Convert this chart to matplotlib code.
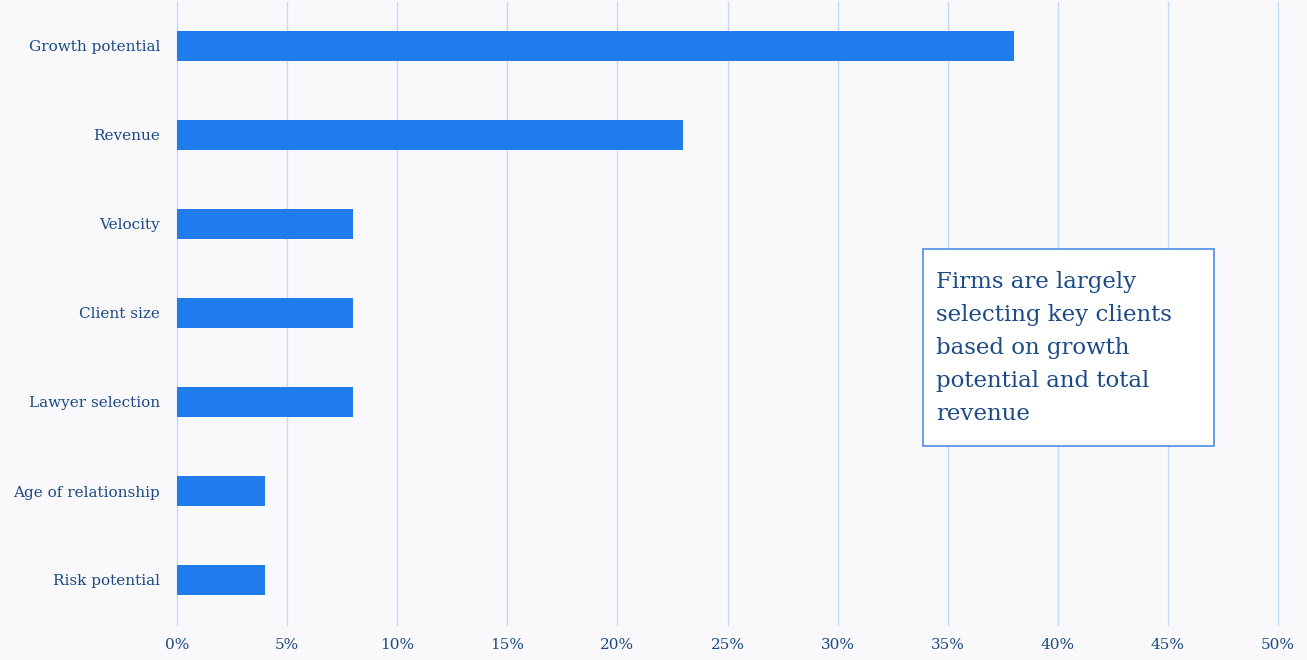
import matplotlib.pyplot as plt
from matplotlib.ticker import FuncFormatter

# selection criteria for key clients, share of firms
criteria = ['Growth potential', 'Revenue', 'Velocity', 'Client size',
            'Lawyer selection', 'Age of relationship', 'Risk potential']
shares = [0.38, 0.23, 0.08, 0.08, 0.08, 0.04, 0.04]
note = 'Firms are largely\nselecting key clients\nbased on growth\npotential and total\nrevenue'

bg = '#f9f9fb'
bar_color = '#207cec'
text_color = '#1c4a86'
grid_color = '#c2daf8'

plt.rcParams['font.family'] = ['DejaVu Serif']

fig = plt.figure(figsize=(13.07, 6.6), dpi=100, facecolor=bg)
ax = fig.add_axes([177 / 1307, 1 - 624.5 / 660, 1101 / 1307, 623 / 660])
ax.set_facecolor(bg)

ypos = range(len(criteria))
ax.barh(ypos, shares, height=0.34, color=bar_color, zorder=3)

ax.set_xlim(0, 0.5)
ax.set_ylim(len(criteria) - 0.5, -0.5)
ax.set_xticks([i * 0.05 for i in range(11)])
ax.xaxis.set_major_formatter(FuncFormatter(lambda v, _: f'{v * 100:.0f}%'))
ax.set_yticks(list(ypos))
ax.set_yticklabels(criteria)

ax.grid(axis='x', color=grid_color, linewidth=1, zorder=0)
ax.grid(axis='y', visible=False)
# keep the 0% and 50% lines whole at the axes edges
for gl in ax.get_xgridlines():
    gl.set_clip_on(False)
for s in ax.spines.values():
    s.set_visible(False)
ax.tick_params(axis='both', length=0, colors=text_color, labelsize=11)
ax.tick_params(axis='y', pad=12)
ax.tick_params(axis='x', pad=10)

fig.text(936 / 1307, 1 - 348 / 660, note, fontsize=16.5, color=text_color,
         va='center', ha='left', linespacing=1.65)
box = plt.Rectangle((923 / 1307, 1 - 446 / 660), 291 / 1307, 197 / 660,
                    transform=fig.transFigure, facecolor='white',
                    edgecolor='#4a8fe6', linewidth=1.2, zorder=4)
fig.patches.append(box)
fig.texts[-1].set_zorder(5)

fig.savefig('out.png', dpi=100, facecolor=bg)
